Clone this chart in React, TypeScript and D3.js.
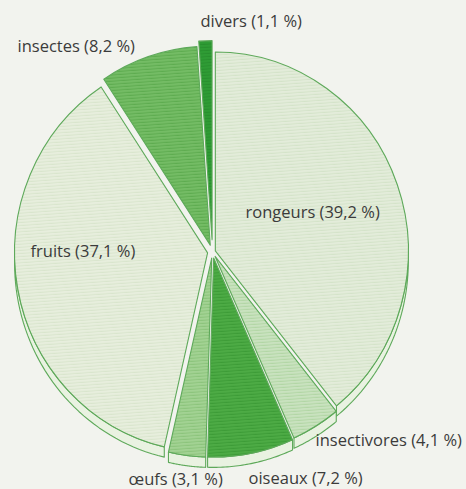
import React from "react";
import * as d3 from "d3";

// Régime alimentaire (parts en %)
const categories = ["rongeurs", "insectivores", "oiseaux", "œufs", "fruits", "insectes", "divers"];
const shares = [39.2, 4.1, 7.2, 3.1, 37.1, 8.2, 1.1];
const shareLabels = ["39,2 %", "4,1 %", "7,2 %", "3,1 %", "37,1 %", "8,2 %", "1,1 %"];

// styling per slice
const baseColors = ["#e3ecda", "#c9e2bf", "#4dab45", "#a2d293", "#e7eedd", "#74bc65", "#2f9c35"];
const lineColors = ["#d4e3c9", "#b2d6a5", "#3d9c37", "#8cc47c", "#d9e5cd", "#5eac50", "#288f2e"];
const explode = [3, 5, 6, 6, 5, 7, 12];
// label anchors (text-anchor start), relative to pie centre
const labelOffsets: [number, number][] = [
  [33, -34], [103, 194], [36, 232], [-84, 233], [-182, 5], [-195, -200], [-12, -225],
];

const W = 466;
const H = 489;
const cx = 212.5;
const cy = 252;
const R = 193;
const yScale = 1.031; // the printed pie is slightly taller than wide
const depth = 10;

export default function App() {
  const pie = d3.pie<number>().sort(null).value((d) => d);
  const arcs = pie(shares);
  const arcGen = d3.arc<d3.PieArcDatum<number>>().innerRadius(0).outerRadius(R);

  const off = (a: d3.PieArcDatum<number>, i: number): [number, number] => {
    const mid = (a.startAngle + a.endAngle) / 2;
    return [Math.sin(mid) * explode[i], -Math.cos(mid) * explode[i]];
  };

  const sidePath = (a: d3.PieArcDatum<number>): string | null => {
    const s = Math.max(a.startAngle, Math.PI / 2);
    const e = Math.min(a.endAngle, (Math.PI * 3) / 2);
    if (e <= s) return null;
    const pts = d3.range(0, 41).map((k) => s + ((e - s) * k) / 40);
    const top = pts.map((t) => [R * Math.sin(t), -R * Math.cos(t)] as [number, number]);
    const bottom = top.slice().reverse().map(([x, y]) => [x, y + depth] as [number, number]);
    return d3.line()([...top, ...bottom]) + "Z";
  };

  return (
    <div style={{ position: "fixed", left: 0, top: 0 }}>
      <svg width={W} height={H} style={{ display: "block" }}>
        <defs>
          {categories.map((c, i) => (
            <pattern key={c} id={`hatch${i}`} width={4} height={3} patternUnits="userSpaceOnUse"
              patternTransform="rotate(-4)">
              <rect width={4} height={3} fill={baseColors[i]} />
              <rect y={2} width={4} height={1} fill={lineColors[i]} />
            </pattern>
          ))}
        </defs>
        <rect width={W} height={H} fill="#f2f3ee" />
        <g transform={`translate(${cx},${cy}) scale(1,${yScale})`}>
          {arcs.map((a, i) => {
            const p = sidePath(a);
            const [ox, oy] = off(a, i);
            return p ? (
              <path key={`side${i}`} d={p} transform={`translate(${ox},${oy})`}
                fill="#e9f2e1" stroke="#5ea95a" strokeWidth={1.1} strokeLinejoin="round" />
            ) : null;
          })}
          {arcs.map((a, i) => {
            const [ox, oy] = off(a, i);
            return (
              <path key={`top${i}`} d={arcGen(a) ?? ""} transform={`translate(${ox},${oy})`}
                fill={`url(#hatch${i})`} stroke="#5ea95a" strokeWidth={1.1} strokeLinejoin="round" />
            );
          })}
        </g>
        <g transform={`translate(${cx},${cy})`}>
          {categories.map((c, i) => (
            <text key={`lab${c}`} x={labelOffsets[i][0]} y={labelOffsets[i][1]}
              fontFamily="'Open Sans', sans-serif" fontSize={16.5} fill="#3b3b3b">
              {`${c} (${shareLabels[i]})`}
            </text>
          ))}
        </g>
      </svg>
    </div>
  );
}
